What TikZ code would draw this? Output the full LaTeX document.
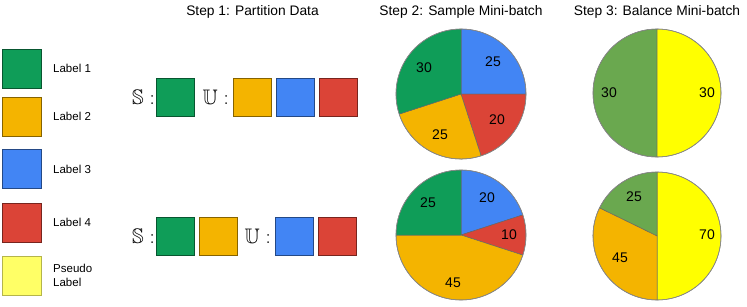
\documentclass[tikz,border=0pt]{standalone}
\usepackage{amssymb}
\usepackage{fontspec}
\setmainfont{Liberation Sans}
\definecolor{cgreen}{HTML}{0F9D58}
\definecolor{corange}{HTML}{F4B400}
\definecolor{cblue}{HTML}{4285F4}
\definecolor{cred}{HTML}{DB4437}
\definecolor{cpseudo}{HTML}{FFFF66}
\definecolor{cpseudoborder}{HTML}{B5B54A}
\definecolor{bgreen}{HTML}{6AA84F}
\definecolor{byellow}{HTML}{FFFF00}
\tikzset{
  sq/.style={draw=#1!55!black, fill=#1, line width=0.8pt, minimum size=38pt, inner sep=0pt},
  legendtxt/.style={anchor=west, font=\fontsize{11.5}{13.5}\selectfont, align=left, inner sep=0pt},
  title/.style={font=\fontsize{13.8}{16}\selectfont, inner sep=0pt},
  pienum/.style={font=\fontsize{14}{16}\selectfont, inner sep=0pt},
  setlbl/.style={font=\fontsize{21}{24}\selectfont, inner sep=0pt},
  slice/.style={fill=#1, draw=black!60, line width=0.5pt, line join=round},
  rim/.style={draw=black!45, line width=0.6pt}
}
\newcommand{\pieslice}[5]{% center, radius, start, end, color
  \filldraw[slice=#5] (#1) -- ++(#3:#2) arc[start angle=#3, end angle=#4, radius=#2] -- cycle;}
\begin{document}
\begin{tikzpicture}[x=1pt,y=1pt]
\useasboundingbox (0,0) rectangle (747,306);
% titles
\node[title] (t1) at (252.5,294) {Step 1: Partition Data};
\node[title] (t2) at (461,294) {Step 2: Sample Mini-batch};
\node[title] (t3) at (657,294) {Step 3: Balance Mini-batch};
% legend
\node[sq=cgreen, minimum size=39pt] (l1) at (21.5,237.5) {};
\node[sq=corange, minimum size=39pt] (l2) at (21.5,189.5) {};
\node[sq=cblue, minimum size=39pt] (l3) at (21.5,137) {};
\node[sq=cred, minimum size=39pt] (l4) at (21.5,83.5) {};
\node[fill=cpseudo, draw=cpseudoborder, line width=0.8pt, minimum size=39pt, inner sep=0pt] (l5) at (21.5,30.5) {};
\node[legendtxt] (lt1) at (53,237.5) {Label 1};
\node[legendtxt] (lt2) at (53,189.5) {Label 2};
\node[legendtxt] (lt3) at (53,137) {Label 3};
\node[legendtxt] (lt4) at (53,83.5) {Label 4};
\node[legendtxt] (lt5) at (53,30.5) {Pseudo\\Label};
% step 1 row 1
\node[setlbl, anchor=east] (s1) at (155,208.5) {$\mathbb{S}:$};
\node[sq=cgreen] (r1a) at (175,208.5) {};
\node[setlbl, anchor=east] (u1) at (229,208.5) {$\mathbb{U}:$};
\node[sq=corange] (r1b) at (252.5,208.5) {};
\node[sq=cblue] (r1c) at (295,208.5) {};
\node[sq=cred] (r1d) at (338.5,208.5) {};
% step 1 row 2
\node[setlbl, anchor=east] (s2) at (155,69.5) {$\mathbb{S}:$};
\node[sq=cgreen] (r2a) at (175,69.5) {};
\node[sq=corange] (r2b) at (218.5,69.5) {};
\node[setlbl, anchor=east] (u2) at (271,69.5) {$\mathbb{U}:$};
\node[sq=cblue] (r2c) at (294,69.5) {};
\node[sq=cred] (r2d) at (337.5,69.5) {};
% step 2 pies
\coordinate (p1) at (461,212);
\pieslice{p1}{65}{0}{90}{cblue}
\pieslice{p1}{65}{-72}{0}{cred}
\pieslice{p1}{65}{-162}{-72}{corange}
\pieslice{p1}{65}{90}{198}{cgreen}
\draw[rim] (p1) circle[radius=65];
\node[pienum] (p1a) at (424,238) {30};
\node[pienum] (p1b) at (493,244) {25};
\node[pienum] (p1c) at (497,186) {20};
\node[pienum] (p1d) at (440,171) {25};
\coordinate (p2) at (461,71);
\pieslice{p2}{65}{18}{90}{cblue}
\pieslice{p2}{65}{-18}{18}{cred}
\pieslice{p2}{65}{-180}{-18}{corange}
\pieslice{p2}{65}{90}{180}{cgreen}
\draw[rim] (p2) circle[radius=65];
\node[pienum] (p2a) at (428,103) {25};
\node[pienum] (p2b) at (487,108) {20};
\node[pienum] (p2c) at (509,71) {10};
\node[pienum] (p2d) at (453,23) {45};
% step 3 pies
\coordinate (p3) at (657,213);
\pieslice{p3}{64}{90}{270}{bgreen}
\pieslice{p3}{64}{-90}{90}{byellow}
\draw[rim] (p3) circle[radius=64];
\node[pienum] (p3a) at (609,213) {30};
\node[pienum] (p3b) at (707,213) {30};
\coordinate (p4) at (657,70);
\pieslice{p4}{64}{-90}{90}{byellow}
\pieslice{p4}{64}{90}{154}{bgreen}
\pieslice{p4}{64}{154}{270}{corange}
\draw[rim] (p4) circle[radius=64];
\node[pienum] (p4a) at (634,109) {25};
\node[pienum] (p4b) at (707,71) {70};
\node[pienum] (p4c) at (620,48) {45};
\end{tikzpicture}
\end{document}
